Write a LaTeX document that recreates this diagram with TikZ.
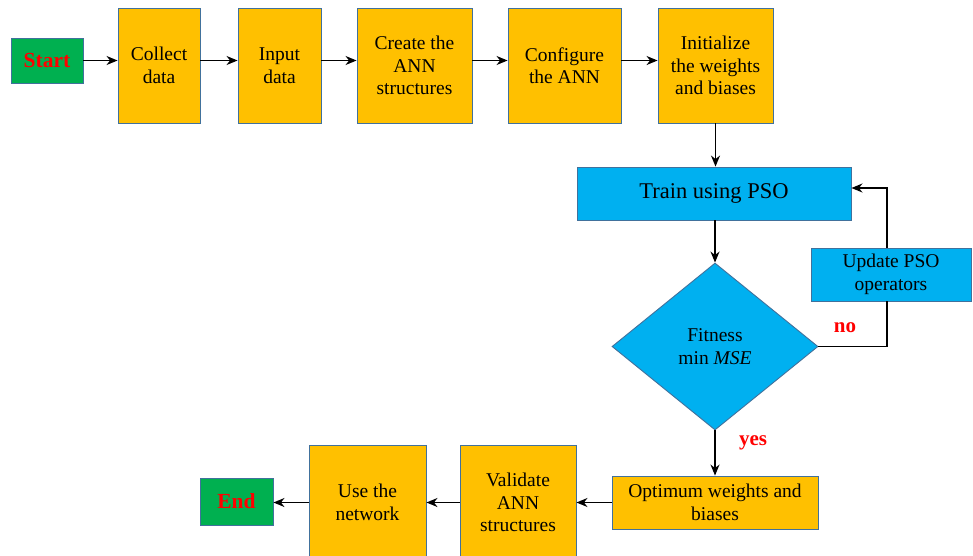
\documentclass[tikz,border=0pt]{standalone}
\usepackage{fontspec}
\setmainfont{Liberation Serif}
\usetikzlibrary{shapes.geometric,arrows.meta}
\definecolor{orng}{HTML}{FFC000}
\definecolor{skyb}{HTML}{00B0F0}
\definecolor{grn}{HTML}{00B050}
\definecolor{edge}{HTML}{41719C}
\begin{document}
\begin{tikzpicture}[x=1pt,y=-1pt,
  box/.style={draw=edge,line width=0.9pt,fill=orng,align=center,inner sep=2pt,font=\fontsize{19.5}{22.5}\selectfont},
  bluebox/.style={draw=edge,line width=0.9pt,fill=skyb,align=center,inner sep=2pt},
  term/.style={draw=edge,line width=0.9pt,fill=grn,text=red,font=\fontsize{21.5}{24}\selectfont\bfseries},
  lbl/.style={text=red,font=\fontsize{21}{24}\selectfont\bfseries},
  arr/.style={-{Stealth[length=11pt,width=9pt,inset=3.5pt]},line width=1.3pt}]
\useasboundingbox (0,0) rectangle (973,555);
\clip (0,0) rectangle (973,555);
\node[term,minimum width=72,minimum height=45] (start) at (47,60.5) {Start};
\node[box,minimum width=82,minimum height=115] (collect) at (159,65.5) {Collect\\data};
\node[box,minimum width=83,minimum height=115] (input) at (279.5,65.5) {Input\\data};
\node[box,minimum width=115,minimum height=115] (create) at (414.5,65.5) {Create the\\ANN\\structures};
\node[box,minimum width=113,minimum height=115] (config) at (564.5,65.5) {Configure\\the ANN};
\node[box,minimum width=115,minimum height=115] (init) at (715.5,65.5) {Initialize\\the weights\\and biases};
\node[bluebox,minimum width=274,minimum height=53,font=\fontsize{22.5}{26}\selectfont] (train) at (714,193.5) {Train using PSO};
\node[bluebox,diamond,aspect=1.23,minimum width=206,minimum height=167,inner sep=0pt,font=\fontsize{19.5}{22.5}\selectfont] (fit) at (715,346.5) {Fitness\\min \textit{MSE}};
\node[bluebox,minimum width=160,minimum height=53,font=\fontsize{19.5}{22.5}\selectfont] (upd) at (891,274.5) {Update PSO\\operators};
\node[box,minimum width=206,minimum height=53] (opt) at (715,502.5) {Optimum weights and\\biases};
\node[box,minimum width=116,minimum height=115] (valid) at (518,502.5) {Validate\\ANN\\structures};
\node[box,minimum width=117,minimum height=115] (use) at (367.5,502.5) {Use the\\network};
\node[term,minimum width=73,minimum height=47] (end) at (236.5,501.5) {End};
\coordinate (c1) at (887,346.5);
\coordinate (c2) at (887,188);
\draw[arr] (start.east) -- (start.east -| collect.west);
\draw[arr] (collect.east |- start) -- (input.west |- start);
\draw[arr] (input.east |- start) -- (create.west |- start);
\draw[arr] (create.east |- start) -- (config.west |- start);
\draw[arr] (config.east |- start) -- (init.west |- start);
\draw[arr] (init.south) -- (init.south |- train.north);
\draw[arr] (fit.north |- train.south) -- (fit.north);
\draw[arr] (fit.south) -- (opt.north);
\draw[line width=1.3pt] (fit.east) -- (c1) -- (upd.south -| c1);
\draw[arr] (upd.north -| c1) -- (c2) -- (train.east |- c2);
\draw[arr] (opt.west) -- (opt.west -| valid.east);
\draw[arr] (valid.west |- opt.west) -- (use.east |- opt.west);
\draw[arr] (use.west |- opt.west) -- (end.east |- opt.west);
\node[lbl] (no) at (845,328) {no};
\node[lbl] (yes) at (753,443) {yes};
\end{tikzpicture}
\end{document}
